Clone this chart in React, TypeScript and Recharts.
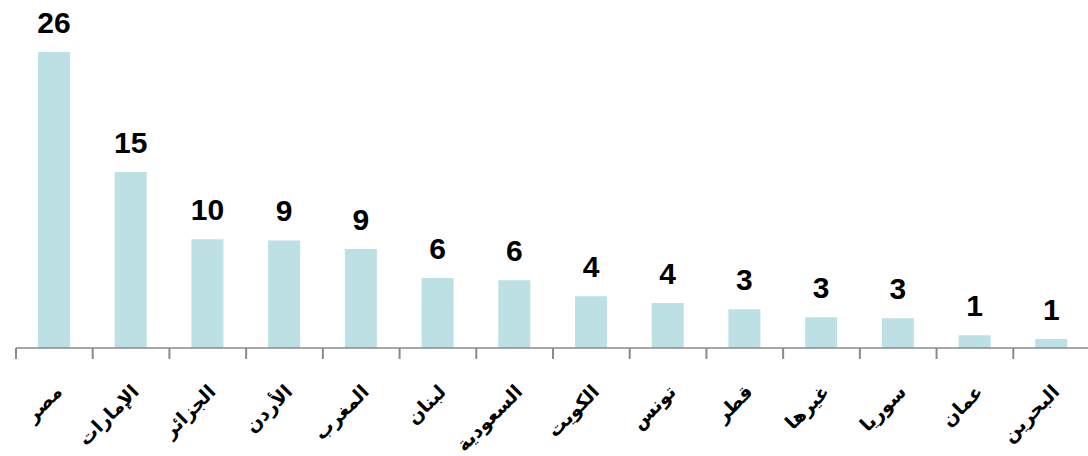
import { BarChart, Bar, XAxis, YAxis, LabelList } from "recharts";

// الدول بالترتيب كما في الرسم
const categories = [
  "مصر",
  "الإمارات",
  "الجزائر",
  "الأردن",
  "المغرب",
  "لبنان",
  "السعودية",
  "الكويت",
  "تونس",
  "قطر",
  "غيرها",
  "سوريا",
  "عمان",
  "البحرين",
];

// ارتفاع الأعمدة (مقروء من الصورة)
const values = [26, 15.45, 9.55, 9.45, 8.7, 6.15, 5.95, 4.55, 3.95, 3.4, 2.7, 2.62, 1.12, 0.78];

// القيم المكتوبة فوق الأعمدة
const labels = [26, 15, 10, 9, 9, 6, 6, 4, 4, 3, 3, 3, 1, 1];

const data = categories.map((name, i) => ({ name, value: values[i], label: labels[i] }));

const CHART_W = 1090;
const CHART_H = 456;
const MARGIN = { top: 52, right: 0, left: 16, bottom: 8 };
const BAND = (CHART_W - MARGIN.left - MARGIN.right) / categories.length;
const AXIS_COLOR = "#8a8a8a";

// eslint-disable-next-line @typescript-eslint/no-explicit-any
function CategoryTick(props: any) {
  const { x, y, payload } = props;
  const left = x - BAND / 2;
  const ax = x + 9;
  const ay = y + 45;
  return (
    <g>
      <line x1={left} y1={y} x2={left} y2={y + 11} stroke={AXIS_COLOR} strokeWidth={2} />
      <text
        x={ax}
        y={ay}
        transform={`rotate(-45, ${ax}, ${ay})`}
        textAnchor="end"
        fontFamily="'DejaVu Sans', sans-serif"
        fontWeight="bold"
        fontSize={19}
        fill="#000"
      >
        {payload.value}
      </text>
    </g>
  );
}

export default function App() {
  return (
    <div style={{ position: "absolute", left: 0, top: 0, width: 1088, height: CHART_H, overflow: "hidden", background: "#fff" }}>
      <BarChart width={CHART_W} height={CHART_H} data={data} margin={MARGIN}>
        <XAxis
          dataKey="name"
          interval={0}
          height={100}
          tickSize={0}
          tickMargin={0}
          tickLine={false}
          axisLine={{ stroke: AXIS_COLOR, strokeWidth: 1.5 }}
          tick={<CategoryTick />}
        />
        <YAxis hide domain={[0, 26]} allowDataOverflow />
        <Bar dataKey="value" fill="#bce0e3" barSize={32} isAnimationActive={false}>
          <LabelList
            dataKey="label"
            position="top"
            offset={19}
            style={{ fontFamily: "'Liberation Sans', Arial, sans-serif", fontWeight: "bold", fontSize: 30, fill: "#000" }}
          />
        </Bar>
      </BarChart>
    </div>
  );
}
